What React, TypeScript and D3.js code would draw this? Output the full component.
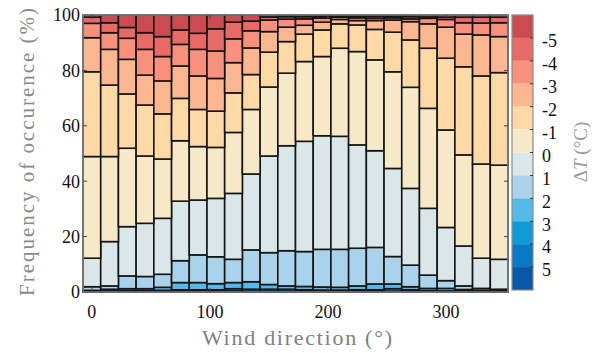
import React, { useEffect, useRef } from 'react';
import * as d3 from 'd3';

// wind direction bins (deg)
const directions = d3.range(0, 360, 15);

// frequency (%) of each temperature difference bin, per direction
const ltM5 = [0.8, 2.8, 4.5, 6.4, 7.8, 5.4, 6.6, 5.0, 2.6, 2.2, 0.7, 0.6, 0.6, 0.5, 0.4, 0.4, 0.5, 0.5, 0.6, 0.7, 0.8, 0.8, 0.8, 0.8];
const m5m4 = [2.2, 3.6, 3.9, 6.0, 7.2, 5.2, 5.8, 8.0, 6.0, 3.5, 1.1, 0.9, 0.8, 0.6, 0.4, 0.6, 0.7, 0.5, 0.8, 0.5, 0.8, 2.0, 2.1, 2.0];
const m4m3 = [5.2, 6.0, 7.6, 9.3, 8.8, 7.8, 9.6, 9.9, 8.6, 6.2, 4.2, 2.9, 2.3, 1.5, 0.8, 1.0, 0.8, 0.8, 1.0, 2.0, 2.8, 4.1, 4.3, 5.0];
const m3m2 = [12.3, 12.9, 12.5, 10.8, 11.9, 11.7, 12.1, 11.8, 10.9, 9.6, 7.4, 5.2, 3.2, 2.8, 1.6, 1.6, 3.2, 4.4, 6.6, 8.8, 11.2, 11.8, 14.8, 13.0];
const m2m1 = [30.6, 25.8, 19.6, 18.4, 16.3, 15.3, 13.4, 13.1, 14.3, 12.6, 12.6, 11.4, 9.9, 9.6, 8.8, 9.6, 11.0, 14.3, 17.1, 21.7, 25.9, 31.8, 31.8, 33.4];
const m1z = [36.7, 30.7, 28.3, 24.3, 21.4, 21.8, 19.3, 18.4, 22.0, 23.3, 24.9, 26.2, 28.8, 28.6, 31.8, 33.7, 32.8, 34.9, 36.5, 36.1, 35.2, 32.9, 34.0, 34.0];
const zp1 = [10.3, 16.0, 17.8, 19.2, 20.2, 21.5, 19.8, 21.1, 23.8, 27.4, 34.9, 37.9, 39.8, 41.0, 40.8, 37.3, 34.9, 31.8, 27.7, 24.1, 19.2, 14.4, 10.9, 10.8];
const p1p2 = [1.3, 1.2, 4.6, 4.4, 4.7, 7.9, 10.0, 9.7, 8.4, 11.5, 11.5, 12.7, 12.6, 13.6, 13.7, 13.6, 13.2, 9.9, 7.8, 4.8, 2.8, 1.3, 0.7, 0.5];
const p2p3 = [0.3, 0.6, 0.7, 0.7, 1.1, 2.6, 2.6, 2.2, 2.2, 2.7, 1.7, 1.2, 1.2, 1.1, 1.0, 1.4, 2.1, 1.7, 1.1, 0.8, 0.9, 0.6, 0.3, 0.3];
const p3p4 = [0.2, 0.3, 0.3, 0.3, 0.4, 0.5, 0.5, 0.5, 0.8, 0.7, 0.7, 0.7, 0.5, 0.5, 0.5, 0.6, 0.6, 0.9, 0.6, 0.3, 0.3, 0.2, 0.2, 0.1];
const p4p5 = [0.1, 0.1, 0.2, 0.2, 0.2, 0.2, 0.2, 0.2, 0.3, 0.2, 0.2, 0.2, 0.2, 0.1, 0.1, 0.1, 0.1, 0.2, 0.1, 0.2, 0.1, 0.1, 0.1, 0.1];
const gtP5 = [0.0, 0.0, 0.0, 0.0, 0.0, 0.1, 0.1, 0.1, 0.1, 0.1, 0.1, 0.1, 0.1, 0.1, 0.1, 0.1, 0.1, 0.1, 0.1, 0.0, 0.0, 0.0, 0.0, 0.0];

// bins from largest positive dT (bottom of stack) to most negative (top)
const binKeys = ['gtP5', 'p4p5', 'p3p4', 'p2p3', 'p1p2', 'zp1', 'm1z', 'm2m1', 'm3m2', 'm4m3', 'm5m4', 'ltM5'];
const binSeries = [gtP5, p4p5, p3p4, p2p3, p1p2, zp1, m1z, m2m1, m3m2, m4m3, m5m4, ltM5];
const binColors = ['#0b57a7', '#0b77c7', '#0e9bd8', '#55b9ea', '#a9d3eb', '#d9e6ea', '#f8e9c6', '#fdd9a6', '#fdb790', '#f7917b', '#e86a66', '#cc4b50'];

const colorbarLabels = ['-5', '-4', '-3', '-2', '-1', '0', '1', '2', '3', '4', '5'];
const xTicks = [0, 100, 200, 300];
const yTicks = [0, 20, 40, 60, 80, 100];

const App: React.FC = () => {
  const chartRef = useRef<SVGSVGElement | null>(null);

  useEffect(() => {
    const width = 600;
    const height = 353;
    const font = 'Liberation Serif, DejaVu Serif, serif';

    const svg = d3.select(chartRef.current);
    svg.selectAll('*').remove();
    svg.attr('width', width).attr('height', height).style('font-family', font);

    const rows = directions.map((dir, i) => {
      const row: Record<string, number> = { dir };
      binKeys.forEach((k, j) => { row[k] = binSeries[j][i]; });
      return row;
    });

    const x = d3.scaleLinear().domain([-7.5, 352.5]).range([83, 508]);
    const y = d3.scaleLinear().domain([0, 100]).range([292, 15]);
    const color = d3.scaleOrdinal<string, string>().domain(binKeys).range(binColors);

    const stacked = d3.stack<Record<string, number>>().keys(binKeys)(rows);

    svg.append('g')
      .selectAll('g')
      .data(stacked)
      .enter().append('g')
      .attr('fill', d => color(d.key))
      .selectAll('rect')
      .data(d => d)
      .enter().append('rect')
      .attr('x', d => x(d.data.dir - 7.5))
      .attr('width', d => x(d.data.dir + 7.5) - x(d.data.dir - 7.5))
      .attr('y', d => y(d[1]))
      .attr('height', d => Math.max(0, y(d[0]) - y(d[1])))
      .attr('stroke', '#151515')
      .attr('stroke-width', 1.6);

    // frame
    svg.append('rect')
      .attr('x', 83).attr('y', 15)
      .attr('width', 425).attr('height', 277)
      .attr('fill', 'none')
      .attr('stroke', '#9a9a9a')
      .attr('stroke-width', 1.2);

    // inner ticks on all sides
    const tickG = svg.append('g').attr('stroke', '#444').attr('stroke-width', 1);
    yTicks.slice(1, -1).forEach(t => {
      tickG.append('line').attr('x1', 83).attr('x2', 87).attr('y1', y(t)).attr('y2', y(t));
      tickG.append('line').attr('x1', 508).attr('x2', 504).attr('y1', y(t)).attr('y2', y(t));
    });
    xTicks.forEach(t => {
      tickG.append('line').attr('x1', x(t)).attr('x2', x(t)).attr('y1', 292).attr('y2', 288);
      tickG.append('line').attr('x1', x(t)).attr('x2', x(t)).attr('y1', 15).attr('y2', 19);
    });

    // tick labels
    svg.append('g')
      .selectAll('text')
      .data(yTicks)
      .enter().append('text')
      .attr('x', 80)
      .attr('y', d => y(d))
      .attr('dy', '0.35em')
      .attr('text-anchor', 'end')
      .style('font-family', font)
      .attr('font-size', 18)
      .attr('fill', '#111')
      .text(d => d);

    svg.append('g')
      .selectAll('text')
      .data(xTicks)
      .enter().append('text')
      .attr('x', d => x(d))
      .attr('y', 318)
      .attr('text-anchor', 'middle')
      .style('font-family', font)
      .attr('font-size', 18)
      .attr('fill', '#111')
      .text(d => d);

    // axis titles
    svg.append('text')
      .attr('x', 297)
      .attr('y', 345)
      .attr('text-anchor', 'middle')
      .style('font-family', font)
      .attr('font-size', 22)
      .attr('fill', '#7f7f7f')
      .attr('textLength', 190)
      .text('Wind direction (°)');

    svg.append('text')
      .attr('transform', 'translate(34,152) rotate(-90)')
      .attr('text-anchor', 'middle')
      .style('font-family', font)
      .attr('font-size', 21)
      .attr('fill', '#8a8a8a')
      .attr('textLength', 288)
      .text('Frequency of occurence (%)');

    // colorbar
    const cbTop = 15;
    const cbBottom = 290;
    const cb = d3.scaleBand<string>()
      .domain([...binKeys].reverse())
      .range([cbTop, cbBottom]);

    svg.append('g')
      .selectAll('rect')
      .data([...binKeys].reverse())
      .enter().append('rect')
      .attr('x', 512)
      .attr('y', d => cb(d)!)
      .attr('width', 21)
      .attr('height', cb.bandwidth())
      .attr('fill', d => color(d));

    svg.append('rect')
      .attr('x', 512).attr('y', cbTop)
      .attr('width', 21).attr('height', cbBottom - cbTop)
      .attr('fill', 'none')
      .attr('stroke', '#8a8a8a')
      .attr('stroke-width', 1.2);

    colorbarLabels.forEach((lab, i) => {
      const yy = cbTop + cb.bandwidth() * (i + 1);
      svg.append('line')
        .attr('x1', 533).attr('x2', 530)
        .attr('y1', yy).attr('y2', yy)
        .attr('stroke', '#333').attr('stroke-width', 1);
      svg.append('text')
        .attr('x', 542)
        .attr('y', yy + 3)
        .attr('dy', '0.35em')
        .style('font-family', font)
        .attr('font-size', 18)
        .attr('fill', '#111')
        .text(lab);
    });

    const dtLabel = svg.append('text')
      .attr('transform', 'translate(587,152) rotate(-90)')
      .attr('text-anchor', 'middle')
      .style('font-family', font)
      .attr('font-size', 19)
      .attr('fill', '#9a9a9a');
    dtLabel.append('tspan').text('Δ');
    dtLabel.append('tspan').attr('font-style', 'italic').text('T');
    dtLabel.append('tspan').text(' (°C)');
  }, []);

  return (
    <div style={{ position: 'absolute', left: 0, top: 0 }}>
      <svg ref={chartRef}></svg>
    </div>
  );
};

export default App;
